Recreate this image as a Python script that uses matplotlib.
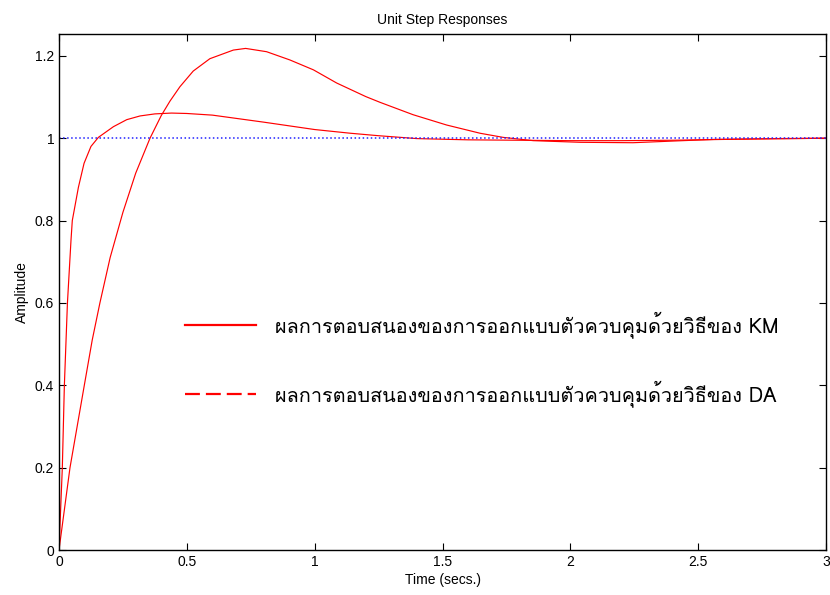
import matplotlib
matplotlib.use("Agg")
import matplotlib.pyplot as plt
from matplotlib import font_manager
from matplotlib.ft2font import FT2Font
from matplotlib.lines import Line2D

# step responses (time in s, amplitude)
t_km = [0, 0.013, 0.021, 0.033, 0.047, 0.052, 0.076, 0.098, 0.125, 0.154, 0.213, 0.265,
        0.317, 0.375, 0.44, 0.5, 0.6, 0.8, 1.0, 1.14, 1.25, 1.4, 1.6, 1.8, 2.0, 2.2, 2.4,
        2.6, 2.8, 3.0]
y_km = [0, 0.20, 0.40, 0.60, 0.753, 0.80, 0.881, 0.939, 0.98, 1.002, 1.028, 1.045,
        1.054, 1.059, 1.061, 1.060, 1.056, 1.039, 1.021, 1.012, 1.006, 0.999, 0.996, 0.995,
        0.994, 0.994, 0.995, 0.997, 0.999, 1.0]
t_da = [0, 0.043, 0.099, 0.13, 0.16, 0.20, 0.25, 0.30, 0.356, 0.40, 0.434, 0.473, 0.525,
        0.59, 0.682, 0.73, 0.812, 0.903, 0.995, 1.086, 1.20, 1.256, 1.385, 1.516, 1.647,
        1.737, 1.855, 2.04, 2.245, 2.40, 2.56, 2.70, 2.89, 3.0]
y_da = [0, 0.20, 0.40, 0.51, 0.60, 0.71, 0.82, 0.915, 1.0, 1.055, 1.09, 1.125, 1.163,
        1.193, 1.214, 1.218, 1.210, 1.19, 1.166, 1.134, 1.101, 1.087, 1.057, 1.032, 1.012,
        1.002, 0.994, 0.990, 0.989, 0.993, 0.997, 0.998, 0.999, 1.0]
t_ref = [0, 3]
y_ref = [1, 1]

labels = ["ผลการตอบสนองของการออกแบบตัวควบคุมด้วยวิธีของ KM",
          "ผลการตอบสนองของการออกแบบตัวควบคุมด้วยวิธีของ DA"]
xticks = [0, 0.5, 1, 1.5, 2, 2.5, 3]
xticklabels = ["0", "0.5", "1", "1.5", "2", "2.5", "3"]
yticks = [0, 0.2, 0.4, 0.6, 0.8, 1, 1.2]
yticklabels = ["0", "0.2", "0.4", "0.6", "0.8", "1", "1.2"]


def thai_family():
    """first installed family that has Thai glyphs, if any"""
    for f in font_manager.fontManager.ttflist:
        try:
            if 0x0E1C in FT2Font(f.fname).get_charmap():
                return f.name
        except Exception:
            pass
    return None


plt.rcParams["font.family"] = ["Liberation Sans", "DejaVu Sans"]
thai = thai_family()
leg_family = [thai, "DejaVu Sans"] if thai else ["DejaVu Sans"]

fig = plt.figure(figsize=(8.3, 5.95), dpi=100)
ax = fig.add_axes([59 / 830, 1 - 550 / 595, 767 / 830, 516 / 595])

ax.plot(t_km, y_km, color="red", lw=0.85)
ax.plot(t_da, y_da, color="red", lw=0.85)
ax.plot(t_ref, y_ref, color="#2020ff", ls=":", lw=1.1)

ax.set_xlim(0, 3)
ax.set_ylim(0, 1.253)
ax.set_xticks(xticks)
ax.set_xticklabels(xticklabels)
ax.set_yticks(yticks)
ax.set_yticklabels(yticklabels)
ax.tick_params(direction="in", length=5, width=0.8, labelsize=10, top=True, right=True)
for s in ax.spines.values():
    s.set_linewidth(1.0)

ax.set_title("Unit Step Responses", fontsize=10, pad=7)
ax.set_xlabel("Time (secs.)", fontsize=10, labelpad=3)
ax.set_ylabel("Amplitude", fontsize=10, labelpad=4)

handles = [Line2D([], [], color="red", lw=1.6),
           Line2D([], [], color="red", lw=1.6, ls=(0, (6.7, 2.7)))]
ax.legend(handles, labels, loc="center left", bbox_to_anchor=(126 / 767, 191 / 516),
          frameon=False, borderpad=0, borderaxespad=0, handlelength=3.55,
          handletextpad=1.0, labelspacing=2.12, prop={"family": leg_family, "size": 14.3})

fig.savefig("out.png", dpi=100)
